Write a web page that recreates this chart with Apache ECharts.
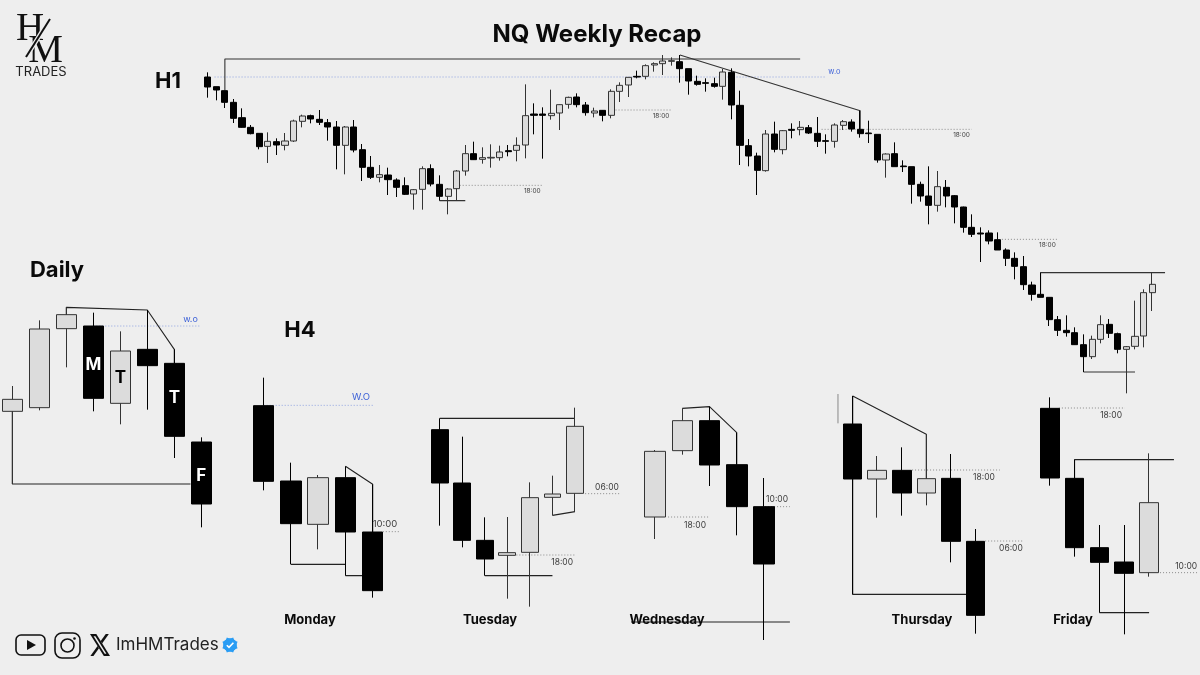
<!DOCTYPE html>
<html><head><meta charset="utf-8">
<style>html,body{margin:0;padding:0;background:#eeeeee}#c{width:1200px;height:675px}</style>
<script src="https://cdn.jsdelivr.net/npm/echarts@6/dist/echarts.min.js"></script>
</head><body><div id="c"></div>
<script>
// Candle rows: [open, close, low, high], in price units
const h1Candles = [
[1904,1874,1842,1918],[1875,1865,1834,1875],[1863,1828,1811,1863],[1828,1780,1766,1838],[1782,1753,1752,1810],
[1753,1734,1732,1760],[1735,1695,1687,1735],[1696,1711,1646,1738],[1710,1700,1670,1720],[1699,1712,1684,1736],
[1712,1772,1709,1776],[1771,1787,1753,1791],[1788,1778,1765,1791],[1777,1768,1760,1805],[1767,1754,1713,1778],
[1754,1699,1627,1772],[1699,1754,1612,1757],[1754,1685,1678,1775],[1686,1633,1592,1703],[1633,1603,1598,1667],
[1603,1611,1588,1640],[1610,1596,1550,1632],[1595,1573,1544,1600],[1578,1552,1550,1603],[1553,1566,1506,1568],
[1567,1629,1506,1636],[1629,1583,1576,1642],[1582,1546,1533,1609],[1546,1568,1492,1570],[1569,1622,1534,1625],
[1622,1674,1608,1700],[1674,1656,1655,1710],[1657,1662,1644,1693],[1661,1663,1632,1702],[1662,1679,1653,1698],
[1683,1680,1666,1700],[1684,1699,1651,1723],[1700,1788,1660,1882],[1793,1789,1732,1825],[1793,1789,1659,1813],
[1788,1795,1776,1866],[1796,1821,1745,1822],[1822,1843,1809,1845],[1844,1821,1813,1855],[1820,1797,1788,1829],
[1796,1802,1783,1812],[1804,1789,1771,1805],[1789,1861,1780,1867],[1861,1879,1829,1888],[1880,1903,1844,1903],
[1906,1904,1900,1923],[1906,1938,1897,1942],[1940,1944,1920,1948],[1944,1952,1910,1970],[1951,1953,1938,1963],
[1950,1929,1887,1970],[1929,1892,1851,1929],[1891,1882,1878,1908],[1887,1885,1860,1900],[1884,1876,1872,1902],
[1876,1919,1836,1928],[1918,1820,1777,1930],[1819,1699,1640,1863],[1698,1667,1636,1718],[1667,1624,1550,1677],
[1623,1733,1620,1745],[1733,1687,1678,1770],[1686,1743,1672,1745],[1747,1744,1720,1765],[1746,1753,1729,1772],
[1752,1736,1733,1760],[1735,1711,1694,1784],[1713,1711,1674,1732],[1711,1760,1692,1765],[1759,1770,1745,1775],
[1769,1748,1740,1777],[1747,1734,1722,1803],[1736,1734,1706,1773],[1732,1655,1647,1732],[1655,1673,1602,1675],
[1674,1635,1635,1708],[1637,1635,1619,1654],[1635,1582,1524,1635],[1582,1547,1530,1590],[1547,1519,1462,1636],
[1519,1575,1500,1622],[1573,1547,1513,1595],[1548,1514,1465,1550],[1514,1453,1437,1515],[1453,1432,1424,1492],
[1436,1433,1349,1453],[1436,1412,1402,1444],[1416,1385,1385,1438],[1385,1360,1337,1390],[1360,1336,1297,1378],
[1335,1281,1265,1367],[1280,1252,1233,1290],[1252,1243,1243,1317],[1243,1176,1157,1243],[1176,1144,1127,1187],
[1144,1137,1125,1189],[1137,1101,1100,1153],[1101,1065,1019,1132],[1065,1117,1058,1128],[1117,1161,1105,1189],
[1162,1135,1121,1178],[1134,1087,1075,1137],[1087,1095,955,1097],[1096,1126,1087,1233],[1127,1257,1093,1267],
[1257,1282,1202,1317]];
const dailyCandles = [[516,552,298,592],[527,763,519,789],[764,806,648,828],[772,555,516,812],[540,697,477,756],[702,653,521,820],[660,441,376,702],[424,238,168,438]];
const mondayCandles = [[713,486,459,797],[487,359,237,542],[357,497,282,505],[497,334,203,531],[334,158,137,477]];
const tuesdayCandles = [[641,481,353,675],[481,309,288,620],[309,253,203,378],[264,272,134,379],[273,437,110,483],[438,448,384,503],[450,651,395,707]];
const wednesdayCandles = [[619,816,553,820],[818,908,806,945],[908,775,712,950],[776,650,564,872],[650,478,250,736]];
const thursdayCandles = [[898,733,387,982],[733,759,617,802],[759,691,623,828],[691,734,654,867],[735,546,483,808],[546,324,269,583]];
const fridayCandles = [[945,736,713,978],[735,527,500,791],[527,483,332,595],[484,450,267,595],[452,662,440,810]];

// Annotations: [candle index, price]
const h1Swings = [[[2,1863],[2,1958],[69,1958]],[[55,1970],[76,1803],[76,1747]],[[27,1533],[30,1533]],[[97,1252],[97,1317],[111.5,1317]],[[102,1019],[108,1019]]];
const h1TimeLevels = [[[29,1579],[39,1579]],[[47.5,1805],[54.1,1805]],[[71.5,1747],[89,1747]],[[92.5,1417],[98.9,1417]]];
const h1WeekOpen = [[0.8,1904],[71.9,1904]];
const h1Labels = [[37.8,1562,'18:00'],[52.8,1788,'18:00'],[87.8,1731,'18:00'],[97.8,1400,'18:00']];
const h1WeekLabel = [73,1919,'w.o'];

const dailySwings = [[[0,516],[0,298],[6.6,298]],[[2,806],[2,828],[5,820],[6,702],[6,660]]];
const dailyWeekOpen = [[3,772],[6.95,772]];
const dailyWeekLabel = [6.6,793,'w.o'];
const dailyLetters = [[3,655,'M','#fff'],[4,616,'T','#000'],[6,555,'T','#fff'],[7,323,'F','#fff']];

const mondaySwings = [[[1,237],[3,237]],[[3,203],[3.62,203]],[[3,531],[4,477],[4,334]]];
const mondayWeekOpen = [[0,714],[4.01,714]];
const mondayWeekLabel = [3.57,739,'W.O'];
const mondayTimeLevels = [[[4.37,335],[5,335]]];
const mondayLabels = [[4.45,357,'10:00']];

const tuesdaySwings = [[[0,675],[6,675]],[[2,203],[5,203]],[[5,384],[6,395]]];
const tuesdayTimeLevels = [[[3,265],[6,265]],[[6.45,449],[8,449]]];
const tuesdayLabels = [[5.43,243,'18:00'],[7.42,469,'06:00']];

const wednesdaySwings = [[[1,945],[2,950],[3,872],[3,776]],[[-0.88,304],[4.95,304]]];
const wednesdayTimeLevels = [[[0.48,619],[1.98,619]],[[4.04,650],[4.95,650]]];
const wednesdayLabels = [[1.47,595,'18:00'],[4.48,672,'10:00']];

const thursdaySwings = [[[0,733],[0,982],[3,867],[3,734]],[[0,733],[0,387],[4.62,387]]];
const thursdayStray = [[-0.6,988],[-0.6,900]];
const thursdayTimeLevels = [[[2.42,760],[6,760]],[[5.4,547],[6.94,547]]];
const thursdayLabels = [[5.35,739,'18:00'],[6.45,525,'06:00']];

const fridaySwings = [[[1,735],[1,791],[5,791]],[[2,332],[4,332]]];
const fridayTimeLevels = [[[0.37,946],[3.03,946]],[[4.44,452],[6,452]]];
const fridayLabels = [[2.47,925,'18:00'],[5.49,471,'10:00']];

const LIGHT='#dcdcdc', EDGE='#333', BLACK='#000', LINE='#222', DOT='#8a8a8a', BLUE='#3f63d8', BLUEDOT='#8fa3e0';
const FONT='Inter';
const grids=[], xAxes=[], yAxes=[], series=[];

function panel(p){
  const k=grids.length;
  grids.push({left:p.left,top:p.top,width:p.right-p.left,height:p.bottom-p.top,containLabel:false});
  xAxes.push({type:'value',gridIndex:k,show:false,min:(p.left-p.x0)/p.step,max:(p.right-p.x0)/p.step});
  yAxes.push({type:'value',gridIndex:k,show:false,scale:true,min:p.pmin,max:p.pmax});
  const base={xAxisIndex:k,yAxisIndex:k,animation:false,silent:true};
  const ln=(d,color,width,type,z)=>series.push(Object.assign({},base,{type:'line',data:d,symbol:'none',z:z,
     lineStyle:{color:color,width:width,type:type}}));
  (p.swings||[]).forEach(s=>ln(s,p.lineColor||LINE,p.lineWidth||1.1,'solid',3));
  (p.stray||[]).forEach(s=>ln(s,'#888',1,'solid',1));
  (p.times||[]).forEach(s=>ln(s,DOT,1,[1,2],1));
  if(p.wo) ln(p.wo,BLUEDOT,1,[1,2],1);
  series.push(Object.assign({},base,{type:'candlestick',z:4,barWidth:p.bw,
    data:p.candles.map((c,i)=>[i].concat(c)),
    itemStyle:{color:LIGHT,color0:BLACK,borderColor:EDGE,borderColor0:'#000',borderWidth:p.bord||1}}));
  const txt=(rows,color,size,weight)=>series.push(Object.assign({},base,{type:'scatter',symbolSize:0,z:6,
    itemStyle:{opacity:1},
    data:rows.map(r=>({value:[r[0],r[1]],name:r[2],label:{color:r[3]||color}})),
    label:{show:true,position:'inside',formatter:'{b}',color:color,opacity:1,fontSize:size,fontWeight:weight,fontFamily:FONT}}));
  if(p.labels) txt(p.labels,'#3c3c3c',p.ls,'normal');
  if(p.woLabel) txt([p.woLabel],BLUE,p.wls,'normal');
  if(p.letters) txt(p.letters,'#fff',17,'bold');
}

panel({candles:h1Candles,x0:207.7,step:8.586,left:190,right:1200,top:45,bottom:400,pmin:935,pmax:2000,bw:6.6,bord:1,
  swings:h1Swings,times:h1TimeLevels,wo:h1WeekOpen,labels:h1Labels,ls:6.5,woLabel:h1WeekLabel,wls:7.5,lineColor:'#333'});
panel({candles:dailyCandles,x0:12.3,step:27,left:0,right:230,top:250,bottom:540,pmin:130,pmax:1000,bw:21,
  swings:dailySwings,wo:dailyWeekOpen,woLabel:dailyWeekLabel,wls:9,letters:dailyLetters});
panel({candles:mondayCandles,x0:263.7,step:27.25,left:240,right:430,top:310,bottom:630,pmin:40,pmax:1000,bw:21,
  swings:mondaySwings,wo:mondayWeekOpen,woLabel:mondayWeekLabel,wls:9.5,times:mondayTimeLevels,labels:mondayLabels,ls:9.5});
panel({candles:tuesdayCandles,x0:439.7,step:22.55,left:425,right:625,top:310,bottom:630,pmin:40,pmax:1000,bw:17.3,
  swings:tuesdaySwings,times:tuesdayTimeLevels,labels:tuesdayLabels,ls:8.5});
panel({candles:wednesdayCandles,x0:655,step:27.25,left:628,right:795,top:390,bottom:640,pmin:250,pmax:1000,bw:21,
  swings:wednesdaySwings,times:wednesdayTimeLevels,labels:wednesdayLabels,ls:8.5});
panel({candles:thursdayCandles,x0:852.7,step:24.53,left:830,right:1030,top:390,bottom:640,pmin:250,pmax:1000,bw:19,
  swings:thursdaySwings,stray:[thursdayStray],times:thursdayTimeLevels,labels:thursdayLabels,ls:8.5});
panel({candles:fridayCandles,x0:1049.7,step:24.85,left:1030,right:1200,top:390,bottom:640,pmin:250,pmax:1000,bw:19.3,
  swings:fridaySwings,times:fridayTimeLevels,labels:fridayLabels,ls:8.5});

const T=(text,x,y,size,weight,color,family,align)=>({type:'text',x:x,y:y,silent:true,z:10,
  style:{text:text,fill:color||'#0a0a0a',font:(weight||'normal')+' '+size+'px "'+(family||FONT)+'"',textAlign:align||'center',textVerticalAlign:'middle'}});
const xMark=(pts,fill)=>({type:'polygon',silent:true,z:3,x:88.8,y:631.5,scaleX:0.93,scaleY:1.13,shape:{points:pts},style:{fill:fill}});
const graphics=[
  T('NQ Weekly Recap',597,35,24,'bold'),
  T('H1',168,81,22,'bold'),T('Daily',57,270,22,'bold'),T('H4',300,330,22,'bold'),
  T('Monday',310,620,13,'bold'),T('Tuesday',490,620,13,'bold'),T('Wednesday',667,620,13,'bold'),T('Thursday',922,620,13,'bold'),T('Friday',1073,620,13,'bold'),
  T('H',30,30,39,'normal','#111','Liberation Serif'),
  T('M',45.5,52,39,'normal','#111','Liberation Serif'),
  {type:'line',silent:true,z:11,shape:{x1:50,y1:19,x2:26,y2:57},style:{stroke:'#eeeeee',lineWidth:4.5}},
  {type:'line',silent:true,z:12,shape:{x1:50,y1:19,x2:26,y2:57},style:{stroke:'#111',lineWidth:2}},
  T('TRADES',41,72.5,13,'normal','#222'),
  {type:'rect',silent:true,shape:{x:16,y:635,width:29,height:20,r:5},style:{fill:'none',stroke:'#111',lineWidth:1.6}},
  {type:'polygon',silent:true,shape:{points:[[27,640],[27,650],[36,645]]},style:{fill:'#111'}},
  {type:'rect',silent:true,shape:{x:55,y:633,width:25,height:25,r:7},style:{fill:'none',stroke:'#111',lineWidth:1.6}},
  {type:'circle',silent:true,shape:{cx:67.5,cy:645.5,r:6.5},style:{fill:'none',stroke:'#111',lineWidth:1.6}},
  {type:'circle',silent:true,shape:{cx:74.5,cy:638.5,r:1.3},style:{fill:'#111'}},
  xMark([[1.254,2.25],[8.08,2.25],[22.827,21.75],[16.17,21.75]],'#111'),
  xMark([[5.117,4.126],[7.084,4.126],[18.916,19.77],[17.083,19.77]],'#eeeeee'),
  xMark([[18.244,2.25],[21.552,2.25],[14.3,10.51],[12.8,8.48]],'#111'),
  xMark([[4.99,21.75],[1.68,21.75],[9.41,12.915],[10.956,14.933]],'#111'),
  T('ImHMTrades',116,645,17,'normal','#222',FONT,'left'),
  {type:'circle',silent:true,shape:{cx:230,cy:645,r:6.8},style:{fill:'#2a9df4'}},
  {type:'rect',silent:true,x:230,y:645,rotation:0.39,shape:{x:-5.8,y:-5.8,width:11.6,height:11.6},style:{fill:'#2a9df4'}},
  {type:'rect',silent:true,x:230,y:645,rotation:-0.39,shape:{x:-5.8,y:-5.8,width:11.6,height:11.6},style:{fill:'#2a9df4'}},
  {type:'polyline',silent:true,z:2,shape:{points:[[226.8,645.2],[229,647.4],[233.4,642.8]]},style:{fill:'none',stroke:'#fff',lineWidth:1.6}}
];

const chart=echarts.init(document.getElementById('c'),null,{renderer:'canvas'});
chart.setOption({backgroundColor:'#eeeeee',animation:false,grid:grids,xAxis:xAxes,yAxis:yAxes,series:series,graphic:{elements:graphics}});
</script></body></html>
